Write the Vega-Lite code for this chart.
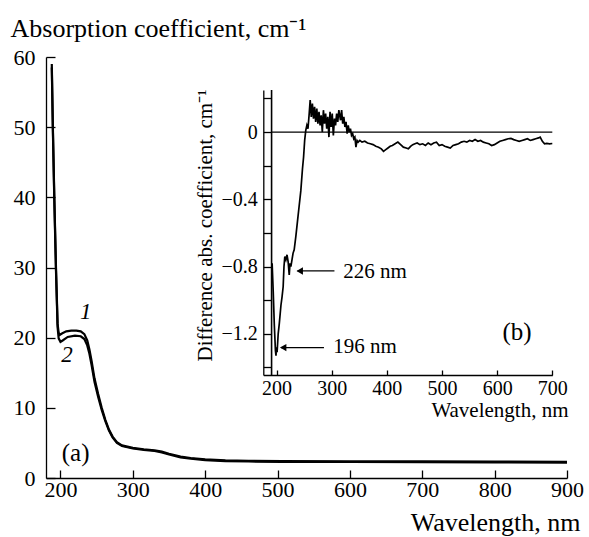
{
  "$schema": "https://vega.github.io/schema/vega-lite/v6.json",
  "width": 521,
  "height": 421,
  "autosize": "none",
  "padding": {"left": 46, "top": 57, "right": 22, "bottom": 59},
  "background": "white",
  "config": {
    "view": {"stroke": null},
    "font": "Liberation Serif",
    "axis": {"grid": false, "domainColor": "black", "tickColor": "black", "labelColor": "black", "titleColor": "black", "titleFontWeight": "normal", "labelFont": "Liberation Serif", "titleFont": "Liberation Serif", "domainWidth": 1.3, "tickWidth": 1.3, "labelFlush": false, "labelOverlap": false},
    "text": {"font": "Liberation Serif", "color": "black"}
  },
  "datasets": {
    "main": [
      {"curve": "1", "wl": 188, "v": 59}, {"curve": "1", "wl": 189.5, "v": 50}, {"curve": "1", "wl": 191.5, "v": 40}, {"curve": "1", "wl": 193.8, "v": 30}, {"curve": "1", "wl": 196, "v": 22}, {"curve": "1", "wl": 197.5, "v": 20.7}, {"curve": "1", "wl": 199, "v": 20.4}, {"curve": "1", "wl": 202, "v": 20.6}, {"curve": "1", "wl": 208, "v": 20.9}, {"curve": "1", "wl": 215, "v": 21.0}, {"curve": "1", "wl": 222, "v": 21.0}, {"curve": "1", "wl": 228, "v": 20.9}, {"curve": "1", "wl": 233, "v": 20.5}, {"curve": "1", "wl": 237, "v": 19.6}, {"curve": "1", "wl": 240, "v": 18.3}, {"curve": "1", "wl": 243, "v": 16.7}, {"curve": "1", "wl": 247, "v": 14.2}, {"curve": "1", "wl": 252, "v": 12}, {"curve": "1", "wl": 257, "v": 10}, {"curve": "1", "wl": 262, "v": 8.3}, {"curve": "1", "wl": 267, "v": 6.9}, {"curve": "1", "wl": 272, "v": 5.9}, {"curve": "1", "wl": 278, "v": 5.1}, {"curve": "1", "wl": 285, "v": 4.65}, {"curve": "1", "wl": 300, "v": 4.3}, {"curve": "1", "wl": 315, "v": 4.1}, {"curve": "1", "wl": 330, "v": 3.95}, {"curve": "1", "wl": 340, "v": 3.75}, {"curve": "1", "wl": 350, "v": 3.45}, {"curve": "1", "wl": 366, "v": 3.05}, {"curve": "1", "wl": 380, "v": 2.85}, {"curve": "1", "wl": 400, "v": 2.65}, {"curve": "1", "wl": 428, "v": 2.5}, {"curve": "1", "wl": 460, "v": 2.45}, {"curve": "1", "wl": 506, "v": 2.4}, {"curve": "1", "wl": 600, "v": 2.38}, {"curve": "1", "wl": 700, "v": 2.36}, {"curve": "1", "wl": 800, "v": 2.33}, {"curve": "1", "wl": 900, "v": 2.3},
      {"curve": "2", "wl": 188, "v": 58.5}, {"curve": "2", "wl": 189.5, "v": 49.5}, {"curve": "2", "wl": 191.5, "v": 39.5}, {"curve": "2", "wl": 193.8, "v": 29.5}, {"curve": "2", "wl": 196, "v": 21.5}, {"curve": "2", "wl": 197.5, "v": 19.9}, {"curve": "2", "wl": 200, "v": 19.4}, {"curve": "2", "wl": 203, "v": 19.6}, {"curve": "2", "wl": 210, "v": 20.1}, {"curve": "2", "wl": 220, "v": 20.3}, {"curve": "2", "wl": 228, "v": 20.2}, {"curve": "2", "wl": 233, "v": 19.8}, {"curve": "2", "wl": 237, "v": 18.9}, {"curve": "2", "wl": 240, "v": 17.7}, {"curve": "2", "wl": 243, "v": 16.1}, {"curve": "2", "wl": 247, "v": 13.7}, {"curve": "2", "wl": 252, "v": 11.6}, {"curve": "2", "wl": 257, "v": 9.7}, {"curve": "2", "wl": 262, "v": 8.1}, {"curve": "2", "wl": 267, "v": 6.75}, {"curve": "2", "wl": 272, "v": 5.8}, {"curve": "2", "wl": 278, "v": 5.0}, {"curve": "2", "wl": 285, "v": 4.55}, {"curve": "2", "wl": 300, "v": 4.2}, {"curve": "2", "wl": 315, "v": 4.0}, {"curve": "2", "wl": 330, "v": 3.85}, {"curve": "2", "wl": 340, "v": 3.65}, {"curve": "2", "wl": 350, "v": 3.35}, {"curve": "2", "wl": 366, "v": 2.95}, {"curve": "2", "wl": 380, "v": 2.75}, {"curve": "2", "wl": 400, "v": 2.55}, {"curve": "2", "wl": 428, "v": 2.4}, {"curve": "2", "wl": 460, "v": 2.35}, {"curve": "2", "wl": 506, "v": 2.3}, {"curve": "2", "wl": 600, "v": 2.28}, {"curve": "2", "wl": 700, "v": 2.26}, {"curve": "2", "wl": 800, "v": 2.23}, {"curve": "2", "wl": 900, "v": 2.2}
    ],
    "curveLabels": [
      {"label": "1", "wl": 235, "v": 23.6},
      {"label": "2", "wl": 209, "v": 17.5}
    ],
    "panelA": [{"label": "(a)", "wl": 221, "v": 3.5}],
    "diff": [
      {"wl": 192, "v": -0.78}, {"wl": 194, "v": -0.95}, {"wl": 196, "v": -1.15}, {"wl": 198, "v": -1.3}, {"wl": 199, "v": -1.33}, {"wl": 200, "v": -1.28}, {"wl": 201, "v": -1.31}, {"wl": 203, "v": -1.2}, {"wl": 205, "v": -1.14}, {"wl": 208, "v": -1.03}, {"wl": 210, "v": -0.98}, {"wl": 212, "v": -0.92}, {"wl": 213.5, "v": -0.8}, {"wl": 215, "v": -0.74}, {"wl": 217, "v": -0.76}, {"wl": 219, "v": -0.73}, {"wl": 221, "v": -0.77}, {"wl": 223, "v": -0.85}, {"wl": 224.5, "v": -0.78}, {"wl": 226, "v": -0.8}, {"wl": 228, "v": -0.76}, {"wl": 230, "v": -0.72}, {"wl": 232, "v": -0.7}, {"wl": 235, "v": -0.62}, {"wl": 238, "v": -0.53}, {"wl": 241, "v": -0.44}, {"wl": 244, "v": -0.35}, {"wl": 247, "v": -0.22}, {"wl": 249, "v": -0.15}, {"wl": 251, "v": -0.05}, {"wl": 253, "v": 0.01}, {"wl": 255, "v": 0.04}, {"wl": 257, "v": 0.02}, {"wl": 259, "v": 0.1}, {"wl": 261, "v": 0.19}, {"wl": 263, "v": 0.09}, {"wl": 265, "v": 0.17}, {"wl": 267, "v": 0.08}, {"wl": 269, "v": 0.15}, {"wl": 271, "v": 0.06}, {"wl": 273, "v": 0.14}, {"wl": 275, "v": 0.05}, {"wl": 277, "v": 0.12}, {"wl": 279, "v": 0.04}, {"wl": 281, "v": 0.1}, {"wl": 283, "v": 0.0}, {"wl": 285, "v": 0.13}, {"wl": 287, "v": 0.05}, {"wl": 289, "v": 0.11}, {"wl": 291, "v": 0.02}, {"wl": 293, "v": 0.09}, {"wl": 295, "v": -0.03}, {"wl": 297, "v": 0.12}, {"wl": 299, "v": 0.03}, {"wl": 301, "v": 0.11}, {"wl": 303, "v": -0.02}, {"wl": 305, "v": 0.08}, {"wl": 307, "v": 0.04}, {"wl": 309, "v": 0.11}, {"wl": 311, "v": 0.06}, {"wl": 313, "v": 0.13}, {"wl": 316, "v": 0.07}, {"wl": 318, "v": 0.13}, {"wl": 320, "v": 0.05}, {"wl": 322, "v": 0.09}, {"wl": 324, "v": 0.03}, {"wl": 326, "v": 0.06}, {"wl": 328, "v": -0.01}, {"wl": 330, "v": 0.04}, {"wl": 332, "v": 0.0}, {"wl": 334, "v": 0.02}, {"wl": 336, "v": -0.02}, {"wl": 338, "v": -0.01}, {"wl": 340, "v": -0.04}, {"wl": 342, "v": -0.03}, {"wl": 344, "v": -0.09}, {"wl": 346, "v": -0.05}, {"wl": 348, "v": -0.06}, {"wl": 351, "v": -0.05}, {"wl": 355, "v": -0.06}, {"wl": 360, "v": -0.055}, {"wl": 365, "v": -0.065}, {"wl": 370, "v": -0.07}, {"wl": 375, "v": -0.075}, {"wl": 380, "v": -0.085}, {"wl": 385, "v": -0.09}, {"wl": 390, "v": -0.1}, {"wl": 394, "v": -0.115}, {"wl": 398, "v": -0.105}, {"wl": 402, "v": -0.095}, {"wl": 406, "v": -0.085}, {"wl": 410, "v": -0.08}, {"wl": 415, "v": -0.07}, {"wl": 420, "v": -0.06}, {"wl": 425, "v": -0.075}, {"wl": 430, "v": -0.09}, {"wl": 435, "v": -0.095}, {"wl": 439, "v": -0.1}, {"wl": 443, "v": -0.085}, {"wl": 447, "v": -0.075}, {"wl": 451, "v": -0.07}, {"wl": 455, "v": -0.065}, {"wl": 460, "v": -0.075}, {"wl": 465, "v": -0.07}, {"wl": 470, "v": -0.08}, {"wl": 475, "v": -0.065}, {"wl": 480, "v": -0.075}, {"wl": 485, "v": -0.065}, {"wl": 490, "v": -0.06}, {"wl": 495, "v": -0.08}, {"wl": 500, "v": -0.075}, {"wl": 505, "v": -0.085}, {"wl": 510, "v": -0.09}, {"wl": 515, "v": -0.095}, {"wl": 520, "v": -0.08}, {"wl": 525, "v": -0.075}, {"wl": 530, "v": -0.07}, {"wl": 535, "v": -0.06}, {"wl": 540, "v": -0.055}, {"wl": 545, "v": -0.06}, {"wl": 550, "v": -0.05}, {"wl": 555, "v": -0.055}, {"wl": 560, "v": -0.045}, {"wl": 565, "v": -0.055}, {"wl": 570, "v": -0.05}, {"wl": 575, "v": -0.06}, {"wl": 580, "v": -0.065}, {"wl": 585, "v": -0.07}, {"wl": 590, "v": -0.08}, {"wl": 595, "v": -0.075}, {"wl": 600, "v": -0.065}, {"wl": 605, "v": -0.055}, {"wl": 610, "v": -0.05}, {"wl": 615, "v": -0.045}, {"wl": 620, "v": -0.04}, {"wl": 625, "v": -0.038}, {"wl": 630, "v": -0.045}, {"wl": 635, "v": -0.05}, {"wl": 640, "v": -0.055}, {"wl": 645, "v": -0.05}, {"wl": 650, "v": -0.045}, {"wl": 655, "v": -0.04}, {"wl": 660, "v": -0.05}, {"wl": 665, "v": -0.045}, {"wl": 670, "v": -0.04}, {"wl": 675, "v": -0.035}, {"wl": 678, "v": -0.03}, {"wl": 682, "v": -0.055}, {"wl": 686, "v": -0.07}, {"wl": 690, "v": -0.068}, {"wl": 695, "v": -0.07}, {"wl": 700, "v": -0.068}
    ],
    "zeroLine": [{"wl": 191, "wl2": 700, "v": 0}],
    "edgeLine": [{"wl": 191, "v": -1.445, "v2": 0.25}],
    "arrows": [{"wl": 305, "wl2": 238, "v": -0.826}, {"wl": 286, "wl2": 208, "v": -1.282}],
    "heads": [{"wl": 242, "v": -0.826}, {"wl": 212, "v": -1.282}],
    "annots": [{"label": "226 nm", "wl": 378.7, "v": -0.832}, {"label": "196 nm", "wl": 360.6, "v": -1.281}],
    "panelB": [{"label": "(b)", "wl": 636, "v": -1.187}]
  },
  "layer": [
    {
      "encoding": {
        "x": {"field": "wl", "type": "quantitative", "scale": {"domain": [180, 900], "nice": false, "zero": false},
          "axis": {"orient": "bottom", "values": [200, 300, 400, 500, 600, 700, 800, 900], "tickSize": -8, "labelPadding": 9.5, "labelFont": "Liberation Serif", "labelFontSize": 22, "title": "Wavelength, nm", "titleFont": "Liberation Serif", "titleFontSize": 26, "titleAnchor": "end", "titleAlign": "right", "titleBaseline": "alphabetic", "titleX": 534, "titleY": 52,
            "encode": {"labels": {"update": {"font": {"value": "Liberation Serif"}, "fontSize": {"value": 22}}}}}},
        "y": {"field": "v", "type": "quantitative", "scale": {"domain": [0, 60], "nice": false, "zero": false},
          "axis": {"orient": "left", "values": [0, 10, 20, 30, 40, 50, 60], "tickSize": -9, "labelPadding": 20, "labelFont": "Liberation Serif", "labelFontSize": 22, "title": "Absorption coefficient, cm⁻¹", "titleFont": "Liberation Serif", "titleFontSize": 26, "titleAngle": 0, "titleAlign": "left", "titleBaseline": "alphabetic", "titleX": -36, "titleY": -21,
            "encode": {"labels": {"update": {"font": {"value": "Liberation Serif"}, "fontSize": {"value": 22}}}}}}
      },
      "layer": [
        {"data": {"name": "main"}, "mark": {"type": "line", "color": "black", "strokeWidth": 2.2}, "encoding": {"detail": {"field": "curve"}}},
        {"data": {"name": "curveLabels"}, "mark": {"type": "text", "font": "Liberation Serif", "fontSize": 23, "fontStyle": "italic", "align": "center", "baseline": "middle"}, "encoding": {"text": {"field": "label"}}},
        {"data": {"name": "panelA"}, "mark": {"type": "text", "font": "Liberation Serif", "fontSize": 25, "align": "center", "baseline": "middle"}, "encoding": {"text": {"field": "label"}}}
      ]
    },
    {
      "encoding": {
        "x": {"field": "wl", "type": "quantitative", "scale": {"domain": [176, 700], "range": [217.3, 506.3], "nice": false, "zero": false},
          "axis": {"orient": "bottom", "offset": -103, "values": [200, 300, 400, 500, 600, 700], "tickSize": -5, "labelPadding": 8.7, "labelFont": "Liberation Serif", "labelFontSize": 20, "title": "Wavelength, nm", "titleFont": "Liberation Serif", "titleFontSize": 21, "titleAnchor": "end", "titleAlign": "right", "titleBaseline": "alphabetic", "titleX": 522, "titleY": 41,
            "encode": {"labels": {"update": {"font": {"value": "Liberation Serif"}, "fontSize": {"value": 20}}}}}},
        "y": {"field": "v", "type": "quantitative", "scale": {"domain": [-1.445, 0.25], "range": [318, 33], "nice": false, "zero": false},
          "axis": {"orient": "left", "offset": -217.3, "values": [0.2, 0, -0.2, -0.4, -0.6, -0.8, -1.0, -1.2, -1.4], "labelExpr": "datum.value == 0 ? '0' : (abs((datum.value * 10) % 4) < 0.01 ? format(datum.value, '.1f') : '')", "tickSize": -8, "labelPadding": 14, "labelFont": "Liberation Serif", "labelFontSize": 20, "title": "Difference abs. coefficient, cm⁻¹", "titleFont": "Liberation Serif", "titleFontSize": 21, "titleAngle": -90, "titleAlign": "center", "titleBaseline": "middle", "titleX": -58, "titleY": 168,
            "encode": {"labels": {"update": {"font": {"value": "Liberation Serif"}, "fontSize": {"value": 20}}}}}}
      },
      "layer": [
        {"data": {"name": "zeroLine"}, "mark": {"type": "rule", "color": "black", "strokeWidth": 1.3}, "encoding": {"x2": {"field": "wl2"}}},
        {"data": {"name": "edgeLine"}, "mark": {"type": "rule", "color": "black", "strokeWidth": 1.6}, "encoding": {"y2": {"field": "v2"}}},
        {"data": {"name": "diff"}, "mark": {"type": "line", "color": "black", "strokeWidth": 1.7}, "encoding": {}},
        {"data": {"name": "arrows"}, "mark": {"type": "rule", "color": "black", "strokeWidth": 1.3}, "encoding": {"x2": {"field": "wl2"}}},
        {"data": {"name": "heads"}, "mark": {"type": "point", "shape": "triangle-left", "filled": true, "color": "black", "size": 55, "opacity": 1}, "encoding": {}},
        {"data": {"name": "annots"}, "mark": {"type": "text", "font": "Liberation Serif", "fontSize": 21, "align": "center", "baseline": "middle"}, "encoding": {"text": {"field": "label"}}},
        {"data": {"name": "panelB"}, "mark": {"type": "text", "font": "Liberation Serif", "fontSize": 25, "align": "center", "baseline": "middle"}, "encoding": {"text": {"field": "label"}}}
      ]
    }
  ],
  "resolve": {"scale": {"x": "independent", "y": "independent"}, "axis": {"x": "independent", "y": "independent"}}
}
